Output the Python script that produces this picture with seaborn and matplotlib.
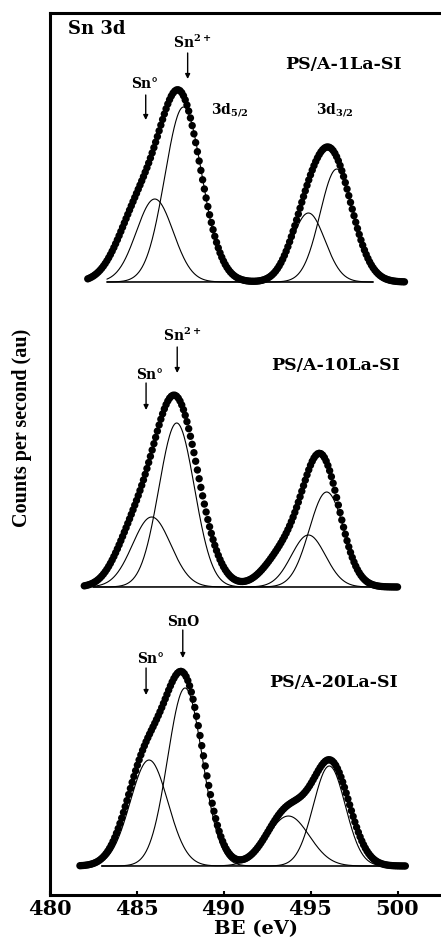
import numpy as np
import pandas as pd
import matplotlib
matplotlib.use('Agg')
import matplotlib.pyplot as plt
import seaborn as sns

# ---------------- data ----------------
samples = ['PS/A-1La-SI', 'PS/A-10La-SI', 'PS/A-20La-SI']
baselines = [613, 308, 29]                      # vertical offset of each spectrum (counts, au)
env_start = [482.2, 482.0, 481.75]              # BE range of measured points
env_stop = [500.4, 500.0, 500.5]
env_step = 0.1
# measured envelope described by peak centre / height / width
env_centers = [[485.1, 487.5, 494.6, 496.2],
               [484.7, 487.2, 493.5, 495.6],
               [485.5, 487.75, 493.7, 496.2]]
env_heights = [[68, 183, 38, 125],
               [41, 190, 33, 128],
               [100, 180, 55, 100]]
env_sigmas = [[1.17, 1.2, 0.92, 1.15],
              [1.0, 1.32, 1.1, 1.05],
              [1.1, 1.1, 1.17, 1.05]]
# fitted components (Sn0 3d5/2, Sn2+ 3d5/2, Sn0 3d3/2, Sn2+ 3d3/2)
comp_start = [483.3, 482.5, 483.0]
comp_stop = [498.6, 499.9, 499.2]
comp_centers = [[486.05, 487.7, 494.88, 496.51],
                [485.87, 487.31, 494.88, 495.93],
                [485.72, 487.79, 493.73, 496.08]]
comp_heights = [[83, 175, 69, 113],
                [70, 164, 52, 95],
                [106, 178, 50, 100]]
comp_sigmas = [[1.06, 1.07, 0.95, 0.96],
               [1.1, 1.02, 0.98, 1.0],
               [1.08, 1.0, 1.2, 0.92]]
x_ticks = [480, 485, 490, 495, 500]


def peaks(x, c, h, s):
    x = np.asarray(x)[:, None]
    return (np.asarray(h) * np.exp(-(x - np.asarray(c)) ** 2 / (2 * np.asarray(s) ** 2)))


env_rows = []
comp_rows = []
for i, name in enumerate(samples):
    xe = np.arange(env_start[i], env_stop[i] + 1e-9, env_step)
    ye = peaks(xe, env_centers[i], env_heights[i], env_sigmas[i]).sum(axis=1) + baselines[i]
    env_rows.append(pd.DataFrame({'BE': xe, 'counts': ye, 'sample': name}))
    xc = np.linspace(comp_start[i], comp_stop[i], 500)
    yc = peaks(xc, comp_centers[i], comp_heights[i], comp_sigmas[i]) + baselines[i]
    for k in range(yc.shape[1]):
        comp_rows.append(pd.DataFrame({'BE': xc, 'counts': yc[:, k],
                                       'unit': f'{name}-{k}'}))
env_df = pd.concat(env_rows, ignore_index=True)
comp_df = pd.concat(comp_rows, ignore_index=True)

# ---------------- drawing ----------------
sns.set_style('white')
plt.rcParams['font.family'] = ['DejaVu Serif']
plt.rcParams['font.weight'] = 'bold'
plt.rcParams['text.color'] = 'black'
plt.rcParams['axes.labelcolor'] = 'black'
plt.rcParams['xtick.color'] = 'black'
plt.rcParams['ytick.color'] = 'black'
plt.rcParams['mathtext.fontset'] = 'custom'
plt.rcParams['mathtext.rm'] = 'DejaVu Serif:bold'
plt.rcParams['mathtext.it'] = 'DejaVu Serif:bold'
plt.rcParams['mathtext.bf'] = 'DejaVu Serif:bold'

W, H = 441, 939
fig = plt.figure(figsize=(W / 100, H / 100), dpi=100)
ax = fig.add_axes([49.5 / W, 44 / H, 1 - 49.5 / W, 882 / H])

sns.lineplot(data=comp_df, x='BE', y='counts', units='unit', estimator=None,
             color='black', linewidth=0.8, sort=False, ax=ax, legend=False)
sns.scatterplot(data=env_df, x='BE', y='counts', color='black', s=28,
                linewidth=0, edgecolor='none', ax=ax, legend=False, zorder=3)

ax.set_xlim(480, 502.5)
ax.set_ylim(0, 882)
ax.set_xticks(x_ticks)
ax.set_xticklabels([str(t) for t in x_ticks], fontsize=15, fontweight='bold')
ax.set_yticks([])
ax.set_xlabel('')
ax.set_ylabel('')
ax.tick_params(axis='x', direction='in', length=3, width=1.5, pad=3, bottom=True,
               colors='black')
for side in ['left', 'top', 'bottom']:
    ax.spines[side].set_linewidth(2.2)
    ax.spines[side].set_color('black')
ax.spines['right'].set_visible(False)

fig.text(256 / W, 1 - 934 / H, 'BE (eV)', ha='center', va='baseline',
         fontsize=14, fontweight='bold', color='black')
fig.text(22 / W, 1 - 428 / H, 'Counts per second (au)', rotation=90,
         ha='center', va='center', fontsize=14.5, fontweight='bold', color='black',
         family=['Liberation Serif', 'DejaVu Serif'])

small = 10
arrow = dict(arrowstyle='-|>', color='black', lw=1.0, mutation_scale=7,
             shrinkA=0, shrinkB=0)
tk = dict(color='black', fontweight='bold')

# top spectrum
ax.text(481.08, 860.7, 'Sn 3d', fontsize=13, ha='left', va='baseline', **tk)
ax.text(496.89, 826, samples[0], fontsize=12.5, ha='center', va='baseline', **tk)
ax.text(485.49, 806.7, 'Sn°', fontsize=small, ha='center', va='baseline', **tk)
ax.annotate('', xy=(485.53, 775), xytext=(485.53, 800), arrowprops=arrow)
ax.text(488.2, 847.3, r'Sn$^{2+}$', fontsize=small, ha='center', va='baseline', **tk)
ax.annotate('', xy=(487.94, 816), xytext=(487.94, 842), arrowprops=arrow)
ax.text(489.28, 781.7, r'3d$_{5/2}$', fontsize=small, ha='left', va='baseline', **tk)
ax.text(495.32, 781.7, r'3d$_{3/2}$', fontsize=small, ha='left', va='baseline', **tk)

# middle spectrum
ax.text(496.46, 525, samples[1], fontsize=12.5, ha='center', va='baseline', **tk)
ax.text(485.78, 515.7, 'Sn°', fontsize=small, ha='center', va='baseline', **tk)
ax.annotate('', xy=(485.55, 485), xytext=(485.55, 512), arrowprops=arrow)
ax.text(487.64, 554.3, r'Sn$^{2+}$', fontsize=small, ha='center', va='baseline', **tk)
ax.annotate('', xy=(487.34, 522), xytext=(487.34, 548), arrowprops=arrow)

# bottom spectrum
ax.text(496.31, 208.3, samples[2], fontsize=12.5, ha='center', va='baseline', **tk)
ax.text(485.82, 231.7, 'Sn°', fontsize=small, ha='center', va='baseline', **tk)
ax.annotate('', xy=(485.55, 200), xytext=(485.55, 227), arrowprops=arrow)
ax.text(487.69, 269, 'SnO', fontsize=small, ha='center', va='baseline', **tk)
ax.annotate('', xy=(487.66, 237), xytext=(487.66, 265), arrowprops=arrow)

fig.savefig('out.png', dpi=100)
